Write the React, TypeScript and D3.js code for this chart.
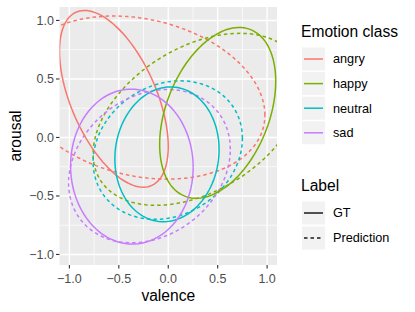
import React from 'react';
import * as d3 from 'd3';

// Emotion classes and their hue colours
const classes = ['angry', 'happy', 'neutral', 'sad'];
const classColors = ['#F8766D', '#7CAE00', '#00BFC4', '#C77CFF'];
const labels = ['GT', 'Prediction'];

// ellipse estimates per class: centre, half extents, correlation
const gtCx = [-0.55, 0.50, -0.013, -0.368];
const gtCy = [0.33, 0.21, -0.144, -0.249];
const gtHx = [0.55, 0.587, 0.527, 0.62];
const gtHy = [0.755, 0.73, 0.576, 0.662];
const gtRho = [-0.54, 0.37, 0.07, -0.01];

const predCx = [-0.28, 0.3, -0.005, -0.19];
const predCy = [0.341, 0.155, -0.108, -0.245];
const predHx = [1.258, 1.06, 0.755, 0.818];
const predHy = [0.697, 0.735, 0.592, 0.655];
const predRho = [-0.215, 0.4, 0.17, 0.22];

const xTicks = [-1.0, -0.5, 0.0, 0.5, 1.0];
const yTicks = [-1.0, -0.5, 0.0, 0.5, 1.0];
const minorTicks = [-0.75, -0.25, 0.25, 0.75];

const W = 415;
const H = 312;
const panel = { left: 59.5, right: 277, top: 7, bottom: 265 };

const fmt = (v: number) => (v < 0 ? '\u2212' : '') + Math.abs(v).toFixed(1);

function ellipsePoints(cx: number, cy: number, hx: number, hy: number, rho: number) {
  const s = Math.sqrt(1 - rho * rho);
  return d3.range(0, 361, 3).map(deg => {
    const t = (deg * Math.PI) / 180;
    return [cx + hx * Math.cos(t), cy + hy * (rho * Math.cos(t) + s * Math.sin(t))] as [number, number];
  });
}

export default function App() {
  const x = d3.scaleLinear().domain([-1.1, 1.1]).range([panel.left, panel.right]);
  const y = d3.scaleLinear().domain([-1.09, 1.115]).range([panel.bottom, panel.top]);
  const line = d3.line<[number, number]>().x(d => x(d[0])).y(d => y(d[1]));

  const font = 'Liberation Sans, Arial, sans-serif';
  const legX = 302;
  const tickSize = 12.5;
  const textSize = 12.7;
  const titleSize = 15.6;

  return (
    <svg width={W} height={H} style={{ position: 'absolute', left: 0, top: 0 }} fontFamily={font}>
      <defs>
        <clipPath id="panel">
          <rect x={panel.left} y={panel.top} width={panel.right - panel.left} height={panel.bottom - panel.top} />
        </clipPath>
      </defs>
      <rect width={W} height={H} fill="#fff" />
      <rect x={panel.left} y={panel.top} width={panel.right - panel.left} height={panel.bottom - panel.top} fill="#EBEBEB" />
      {minorTicks.map(t => (
        <g key={'m' + t}>
          <line x1={x(t)} x2={x(t)} y1={panel.top} y2={panel.bottom} stroke="#fff" strokeWidth={0.7} />
          <line x1={panel.left} x2={panel.right} y1={y(t)} y2={y(t)} stroke="#fff" strokeWidth={0.7} />
        </g>
      ))}
      {xTicks.map(t => (
        <line key={'gx' + t} x1={x(t)} x2={x(t)} y1={panel.top} y2={panel.bottom} stroke="#fff" strokeWidth={1.4} />
      ))}
      {yTicks.map(t => (
        <line key={'gy' + t} x1={panel.left} x2={panel.right} y1={y(t)} y2={y(t)} stroke="#fff" strokeWidth={1.4} />
      ))}
      <g clipPath="url(#panel)" fill="none" strokeWidth={1.5}>
        {classes.map((c, i) => (
          <path key={'p' + c} d={line(ellipsePoints(predCx[i], predCy[i], predHx[i], predHy[i], predRho[i])) || ''}
            stroke={classColors[i]} strokeDasharray="3.5,3" />
        ))}
        {classes.map((c, i) => (
          <path key={'g' + c} d={line(ellipsePoints(gtCx[i], gtCy[i], gtHx[i], gtHy[i], gtRho[i])) || ''}
            stroke={classColors[i]} />
        ))}
      </g>
      {/* axes */}
      {xTicks.map(t => (
        <g key={'xt' + t}>
          <line x1={x(t)} x2={x(t)} y1={panel.bottom} y2={panel.bottom + 3.5} stroke="#333" strokeWidth={1.1} />
          <text x={x(t)} y={panel.bottom + 17.5} textAnchor="middle" fontSize={tickSize} fill="#4D4D4D">{fmt(t)}</text>
        </g>
      ))}
      {yTicks.map(t => (
        <g key={'yt' + t}>
          <line x1={panel.left - 3.5} x2={panel.left} y1={y(t)} y2={y(t)} stroke="#333" strokeWidth={1.1} />
          <text x={panel.left - 5.5} y={y(t) + 4.4} textAnchor="end" fontSize={tickSize} fill="#4D4D4D">{fmt(t)}</text>
        </g>
      ))}
      <text x={(panel.left + panel.right) / 2} y={300.5} textAnchor="middle" fontSize={titleSize}>valence</text>
      <text transform={`translate(20.5,${(panel.top + panel.bottom) / 2}) rotate(-90)`} textAnchor="middle" fontSize={titleSize}>arousal</text>

      {/* legends */}
      <text x={legX - 1} y={37} fontSize={titleSize}>Emotion class</text>
      {classes.map((c, i) => {
        const cy = 59 + i * 24.6;
        return (
          <g key={'lc' + c}>
            <rect x={legX} y={cy - 11.5} width={23} height={23} fill="#F2F2F2" />
            <line x1={legX + 2} x2={legX + 21} y1={cy} y2={cy} stroke={classColors[i]} strokeWidth={1.5} />
            <text x={legX + 31} y={cy + 4.4} fontSize={textSize}>{c}</text>
          </g>
        );
      })}
      <text x={legX - 1} y={191} fontSize={titleSize}>Label</text>
      {labels.map((l, i) => {
        const cy = 213 + i * 25;
        return (
          <g key={'ll' + l}>
            <rect x={legX} y={cy - 11.5} width={23} height={23} fill="#F2F2F2" />
            <line x1={legX + 2} x2={legX + 21} y1={cy} y2={cy} stroke="#1a1a1a" strokeWidth={1.5}
              strokeDasharray={i === 1 ? '3.5,3' : undefined} />
            <text x={legX + 31} y={cy + 4.4} fontSize={textSize}>{l}</text>
          </g>
        );
      })}
    </svg>
  );
}
